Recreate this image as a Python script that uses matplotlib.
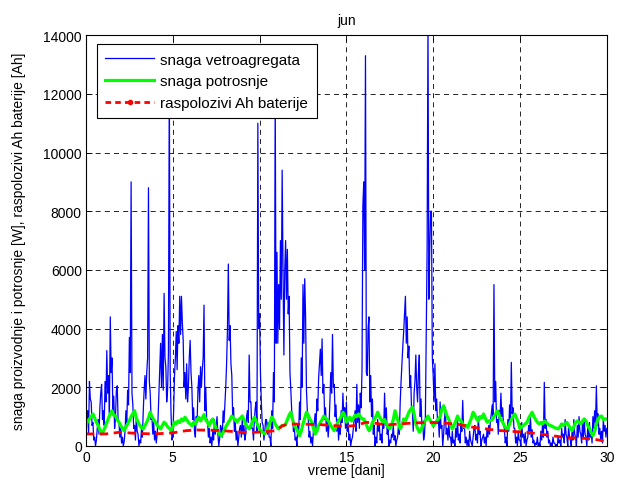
import numpy as np
import matplotlib
matplotlib.use("Agg")
import matplotlib.pyplot as plt
from matplotlib.lines import Line2D

# wind turbine output [W], one value every 0.05 day (one row per day)
wind_w = [
    500, 900, 1200, 400, 2200, 1600, 1500, 700, 800, 200, 300, 0, 200, 600, 900, 400, 1300, 1800, 2100, 900,
    1200, 700, 2200, 1500, 3250, 1800, 2400, 1100, 4400, 2500, 3000, 1200, 1700, 600, 1000, 1900, 2050, 900, 800, 300,
    600, 100, 300, 0, 150, 500, 1200, 800, 1900, 1400, 3700, 2500, 9000, 1800, 1400, 600, 700, 200, 1000, 500,
    400, 0, 200, 100, 600, 300, 1200, 1900, 2400, 1600, 2500, 3000, 8800, 2200, 1800, 900, 1000, 400, 800, 200,
    500, 100, 400, 900, 1800, 2600, 3500, 2000, 3800, 1900, 5200, 3000, 2700, 1500, 1900, 3200, 12500, 2500, 1100, 200,
    300, 1200, 2400, 3000, 3900, 2600, 4100, 3500, 5100, 3800, 5100, 4200, 3600, 2000, 2500, 1600, 2800, 1500, 2000, 3000,
    3600, 2500, 2000, 900, 1300, 500, 300, 1000, 800, 1900, 2400, 1500, 2700, 2000, 2600, 3000, 4800, 1200, 2000, 900,
    900, 300, 600, 100, 300, 0, 500, 200, 900, 400, 700, 1000, 400, 0, 250, 700, 600, 300, 1200, 800,
    1400, 2000, 2800, 4000, 6200, 3600, 4100, 2800, 2400, 1000, 1300, 500, 800, 200, 500, 0, 300, 600, 700, 300,
    900, 400, 700, 200, 400, 1000, 1200, 800, 3100, 1500, 1500, 600, 600, 200, 900, 1300, 1500, 500, 11000, 4000,
    4500, 2500, 1500, 800, 700, 200, 500, 900, 900, 400, 800, 300, 300, 0, 1200, 600, 2500, 1500, 12000, 3500,
    6600, 3500, 5500, 4000, 7000, 5000, 9400, 6000, 3100, 6000, 7000, 5000, 6700, 4500, 5100, 2500, 1900, 1200, 1000, 500,
    600, 200, 300, 0, 700, 400, 1500, 900, 3000, 2000, 5500, 3500, 5700, 4400, 1900, 1200, 1000, 300, 500, 100,
    300, 0, 500, 800, 1100, 600, 1600, 1200, 2300, 2800, 3300, 2400, 3650, 1800, 2100, 900, 1300, 500, 900, 300,
    700, 1500, 2500, 1800, 3800, 2000, 2100, 1000, 1400, 500, 900, 200, 700, 400, 1200, 800, 1800, 1000, 1300, 600,
    1500, 500, 800, 200, 400, 0, 200, 300, 600, 900, 1200, 500, 2100, 800, 1400, 600, 1800, 1300, 2600, 8200,
    9000, 6000, 13300, 2500, 2400, 4000, 4400, 1500, 2400, 1000, 1600, 400, 700, 0, 300, 100, 900, 500, 700, 200,
    400, 100, 900, 600, 1800, 700, 1300, 400, 600, 0, 200, 100, 400, 300, 700, 200, 350, 0, 200, 300,
    700, 400, 1500, 2200, 2800, 3400, 3900, 4500, 5100, 3500, 4400, 3000, 3400, 2000, 2400, 1300, 1200, 500, 1800, 2200,
    3100, 2000, 1500, 2500, 3100, 1000, 1600, 600, 800, 200, 400, 1000, 4000, 6700, 14500, 5000, 6700, 8000, 8000, 3000,
    2400, 1500, 2800, 1200, 1600, 800, 900, 300, 1500, 600, 700, 0, 400, 900, 1300, 400, 600, 200, 800, 300,
    300, 0, 500, 100, 200, 0, 600, 300, 900, 200, 400, 100, 800, 500, 1550, 600, 700, 100, 300, 0,
    200, 0, 500, 200, 100, 0, 300, 600, 700, 200, 400, 100, 1000, 400, 500, 0, 200, 300, 400, 100,
    300, 0, 600, 300, 700, 400, 900, 1100, 1400, 900, 5500, 1500, 2200, 800, 900, 400, 1200, 900, 1800, 1000,
    1300, 700, 600, 100, 300, 0, 900, 500, 1400, 800, 2850, 1100, 1300, 600, 600, 100, 300, 0, 500, 200,
    200, 0, 800, 300, 400, 100, 450, 0, 200, 300, 700, 400, 1050, 300, 550, 100, 200, 0, 100, 50,
    300, 0, 100, 0, 500, 200, 800, 300, 2170, 600, 900, 300, 500, 100, 200, 0, 100, 0, 300, 100,
    100, 0, 50, 0, 350, 100, 200, 0, 600, 300, 400, 100, 900, 400, 300, 0, 700, 300, 200, 0,
    500, 200, 900, 400, 300, 0, 700, 300, 1000, 500, 400, 100, 800, 300, 900, 400, 300, 0, 600, 200,
    800, 300, 500, 100, 1000, 600, 1200, 800, 2050, 700, 1100, 400, 600, 200, 500, 100, 900, 500, 700, 300,
    600,
]

# consumption [W], one value every 0.1 day
load_w = [
    690, 850, 920, 1000, 1090, 950, 810, 700, 550, 410,
    500, 640, 800, 950, 1100, 1200, 1050, 1020, 900, 810,
    700, 600, 520, 650, 750, 860, 1000, 1100, 1200, 950,
    810, 700, 620, 580, 700, 810, 950, 1150, 1000, 900,
    810, 700, 650, 580, 700, 810, 750, 650, 600, 520,
    650, 810, 750, 850, 800, 920, 850, 980, 900, 800,
    750, 690, 800, 750, 900, 980, 850, 950, 1070, 900,
    800, 690, 850, 920, 750, 580, 500, 400, 350, 450,
    600, 700, 800, 900, 1020, 950, 900, 810, 900, 950,
    1020, 900, 750, 650, 580, 700, 850, 980, 850, 700,
    580, 500, 450, 410, 500, 650, 800, 980, 900, 750,
    650, 580, 650, 700, 690, 750, 900, 1050, 1150, 900,
    690, 600, 500, 350, 500, 750, 950, 1150, 1050, 900,
    810, 600, 410, 500, 690, 800, 900, 1020, 950, 900,
    810, 700, 600, 520, 650, 800, 900, 1000, 1150, 1050,
    810, 900, 980, 850, 950, 1050, 1000, 1090, 1000, 920,
    920, 800, 650, 520, 600, 810, 900, 1000, 1150, 1000,
    900, 810, 900, 750, 650, 580, 700, 900, 1200, 1000,
    800, 580, 700, 920, 850, 1000, 1150, 1250, 1320, 1100,
    750, 600, 470, 550, 700, 850, 900, 1020, 900, 800,
    690, 750, 850, 920, 1000, 1250, 1370, 1200, 1020, 900,
    750, 580, 700, 850, 1020, 900, 860, 750, 650, 700,
    630, 800, 950, 1150, 1050, 920, 850, 1000, 950, 1090,
    950, 810, 850, 860, 900, 1000, 1100, 1200, 1050, 900,
    810, 700, 600, 580, 750, 900, 1000, 1090, 950, 800,
    580, 650, 700, 750, 800, 950, 1050, 1150, 1000, 900,
    810, 750, 800, 750, 850, 810, 750, 700, 690, 650,
    620, 600, 580, 650, 750, 700, 750, 800, 700, 600,
    520, 650, 800, 850, 810, 750, 850, 920, 850, 700,
    600, 450, 350, 500, 750, 920, 1000, 1020, 900, 920,
    920,
]

# available battery capacity [Ah]
batt_days = [
    0.0, 1.15, 1.92, 2.88, 3.84, 4.6, 5.0, 5.76, 6.33, 7.68, 9.02, 9.79,
    10.36, 10.94, 11.32, 11.7, 13.43, 14.2, 14.97, 15.55, 16.12, 16.5,
    17.3, 18.04, 18.8, 19.77, 20.7, 21.5, 22.27, 23.04, 23.8, 24.6, 25.4,
    26.1, 26.87, 27.64, 28.4, 29.17, 29.75, 30.0,
]
batt_ah = [
    410, 410, 465, 430, 410, 430, 445, 520, 545, 530, 465, 465,
    490, 520, 690, 750, 730, 695, 670, 695, 805, 790,
    715, 750, 780, 805, 780, 730, 640, 580, 525, 495, 465,
    410, 350, 280, 270, 240, 180, 150,
]

wind_days = np.arange(len(wind_w)) * 0.05
load_days = np.arange(len(load_w)) * 0.1

plt.rcParams["font.family"] = ["Liberation Sans", "DejaVu Sans"]
plt.rcParams["font.size"] = 10

fig = plt.figure(figsize=(6.23, 4.89), dpi=100)
ax = fig.add_axes([0.138, 0.086, 0.836, 0.840])

ax.plot(wind_days, wind_w, color="#0000ff", lw=0.9)
ax.plot(load_days, load_w, color="#00ff00", lw=2.3)
ax.plot(batt_days, batt_ah, color="#ff0000", lw=2.0, ls=(0, (3, 2)))

ax.set_xlim(0, 30)
ax.set_ylim(0, 14000)
ax.set_xticks(np.arange(0, 31, 5))
ax.set_yticks(np.arange(0, 14001, 2000))
ax.grid(True, color="black", ls=(0, (6, 5)), lw=0.6)
ax.tick_params(direction="in", top=True, right=True, length=4, width=0.6,
               labelsize=10, colors="black", pad=3)
for sp in ax.spines.values():
    sp.set_linewidth(0.8)

ax.set_title("jun", fontsize=10, pad=8)
ax.set_xlabel("vreme [dani]", fontsize=10, labelpad=-1)
ax.set_ylabel("snaga proizvodnje i potrosnje [W], raspolozivi Ah baterije [Ah]",
              fontsize=10, labelpad=12)

handles = [
    Line2D([], [], color="#0000ff", lw=0.9),
    Line2D([], [], color="#00ff00", lw=2.3),
    Line2D([], [], color="#ff0000", lw=2.0, ls=(0, (2, 1.5)), marker=".",
           markersize=6),
]
labels = ["snaga vetroagregata", "snaga potrosnje", "raspolozivi Ah baterije"]
leg = ax.legend(handles, labels, loc="upper left",
                bbox_to_anchor=(11 / 521, 1 - 9 / 411), borderaxespad=0,
                fancybox=False, edgecolor="black", framealpha=1,
                handlelength=3.2, handletextpad=0.4, fontsize=11,
                borderpad=0.55, labelspacing=0.5, numpoints=1)
leg.get_frame().set_linewidth(0.8)

fig.savefig("out.png", dpi=100)
